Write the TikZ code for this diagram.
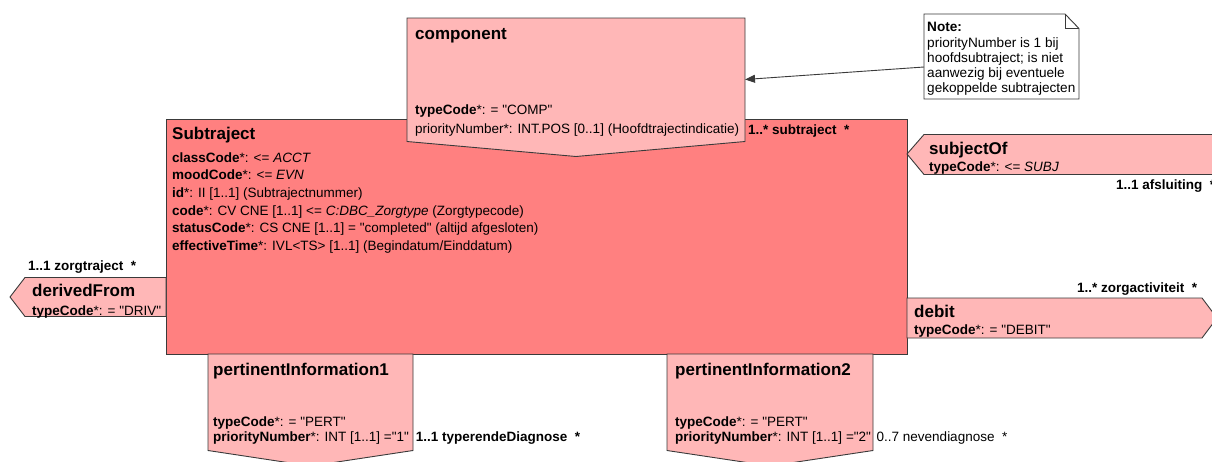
\documentclass[tikz,border=0pt]{standalone}
\usepackage{fontspec}
\setmainfont{Liberation Sans}[Ligatures=TeXOff]
\usetikzlibrary{arrows.meta}
\definecolor{actlight}{HTML}{FFB7B7}
\definecolor{actdark}{HTML}{FF8080}
\definecolor{edgegray}{HTML}{3A3A3A}

\begin{document}
\begin{tikzpicture}[x=1pt,y=-1pt,
  lightbox/.style={fill=actlight, draw=edgegray, line width=0.9pt, line join=miter},
  darkbox/.style={fill=actdark, draw=edgegray, line width=0.9pt},
  notebox/.style={fill=white, draw=edgegray, line width=0.9pt},
  cname/.style={anchor=base west, inner sep=0pt, font=\fontsize{17}{20}\selectfont\bfseries},
  attr/.style={anchor=base west, inner sep=0pt, font=\fontsize{13.5}{16}\selectfont},
  role/.style={anchor=base west, inner sep=0pt, font=\fontsize{13.5}{16}\selectfont\bfseries},
  plainrole/.style={anchor=base west, inner sep=0pt, font=\fontsize{13.5}{16}\selectfont},
  notetext/.style={anchor=base west, inner sep=0pt, font=\fontsize{13.6}{15}\selectfont},
  link/.style={draw=edgegray, line width=0.9pt, -{Triangle[length=10pt,width=8pt]}}]

\useasboundingbox (0,0) rectangle (1212,461);
\clip (0,0) rectangle (1212,461);

% main act class
\path[darkbox] (166,119) rectangle (907,354);

% participation boxes
\path[lightbox] (407,18) -- (745,18) -- (745,141.5) -- (576,156.5) -- (407,141.5) -- cycle;
\path[lightbox] (907,154) -- (924,134.5) -- (1225,134.5) -- (1225,174.5) -- (924,174.5) -- cycle;
\path[lightbox] (10,297) -- (25,277.5) -- (166,277.5) -- (166,316.5) -- (25,316.5) -- cycle;
\path[lightbox] (907,298) -- (1202,298) -- (1217,318) -- (1202,338) -- (907,338) -- cycle;
\path[lightbox] (208,354) -- (413,354) -- (413,450.5) -- (310.5,466) -- (208,450.5) -- cycle;
\path[lightbox] (667,354) -- (873,354) -- (873,450.5) -- (770,466) -- (667,450.5) -- cycle;

% note with folded corner
\path[notebox] (924,14) -- (1065,14) -- (1079,28.5) -- (1079,99) -- (924,99) -- cycle;
\draw[edgegray, line width=0.9pt] (1065,14) -- (1065,28.5) -- (1079,28.5);

% component
\node[cname] (comp) at (415,39.3) {component};
\node[attr] (comp-type) at (415,114) {\textbf{typeCode}*: = "COMP"};
\node[attr] (comp-prio) at (415,133) {priorityNumber*: INT.POS [0..1] (Hoofdtrajectindicatie)};
\node[role] (comp-role) at (748,134.5) {1..* subtraject\ \ *};

% Subtraject
\node[cname] (subtr) at (172,139.5) {Subtraject};
\node[attr] (subtr-a1) at (172,162) {\textbf{classCode}*: <= \textit{ACCT}};
\node[attr] (subtr-a2) at (172,179.7) {\textbf{moodCode}*: <= \textit{EVN}};
\node[attr] (subtr-a3) at (172,197.4) {\textbf{id}*: II [1..1] (Subtrajectnummer)};
\node[attr] (subtr-a4) at (172,215.1) {\textbf{code}*: CV CNE [1..1] <= \textit{C:DBC\_Zorgtype} (Zorgtypecode)};
\node[attr] (subtr-a5) at (172,232.8) {\textbf{statusCode}*: CS CNE [1..1] = "completed" (altijd afgesloten)};
\node[attr] (subtr-a6) at (172,250.5) {\textbf{effectiveTime}*: IVL<TS> [1..1] (Begindatum/Einddatum)};

% subjectOf
\node[cname] (subj) at (929,154) {subjectOf};
\node[attr] (subj-type) at (929,171.7) {\textbf{typeCode}*: <= \textit{SUBJ}};
\node[role] (subj-role) at (1116,189) {1..1 afsluiting\ \ *};

% derivedFrom
\node[cname] (deriv) at (32,296.7) {derivedFrom};
\node[attr] (deriv-type) at (32,315) {\textbf{typeCode}*: = "DRIV"};
\node[role] (deriv-role) at (28,270.7) {1..1 zorgtraject\ \ *};

% debit
\node[cname] (debit) at (914,317.3) {debit};
\node[attr] (debit-type) at (914,334.3) {\textbf{typeCode}*: = "DEBIT"};
\node[role] (debit-role) at (1077,292.3) {1..* zorgactiviteit\ \ *};

% pertinentInformation1
\node[cname] (pert1) at (213,375.7) {pertinentInformation1};
\node[attr] (pert1-type) at (213,426.7) {\textbf{typeCode}*: = "PERT"};
\node[attr] (pert1-prio) at (213,441.7) {\textbf{priorityNumber}*: INT [1..1] ="1"};
\node[role] (pert1-role) at (415.7,441.7) {1..1 typerendeDiagnose\ \ *};

% pertinentInformation2
\node[cname] (pert2) at (675,375.7) {pertinentInformation2};
\node[attr] (pert2-type) at (675,426.7) {\textbf{typeCode}*: = "PERT"};
\node[attr] (pert2-prio) at (675,441.7) {\textbf{priorityNumber}*: INT [1..1] ="2"};
\node[plainrole] (pert2-role) at (876.5,441.7) {0..7 nevendiagnose\ \ *};

% note text
\node[notetext, font=\fontsize{13.6}{15}\selectfont\bfseries] (note) at (927,31) {Note:};
\node[notetext] (note-l1) at (927,47.7) {priorityNumber is 1 bij};
\node[notetext] (note-l2) at (927,62.6) {hoofdsubtraject; is niet};
\node[notetext] (note-l3) at (927,77.5) {aanwezig bij eventuele};
\node[notetext] (note-l4) at (927,92.4) {gekoppelde subtrajecten};

% note link to component
\coordinate (note-link) at (924,67);
\coordinate (comp-link) at (745,79.5);
\draw[link] (note-link) -- (comp-link);
\end{tikzpicture}
\end{document}
